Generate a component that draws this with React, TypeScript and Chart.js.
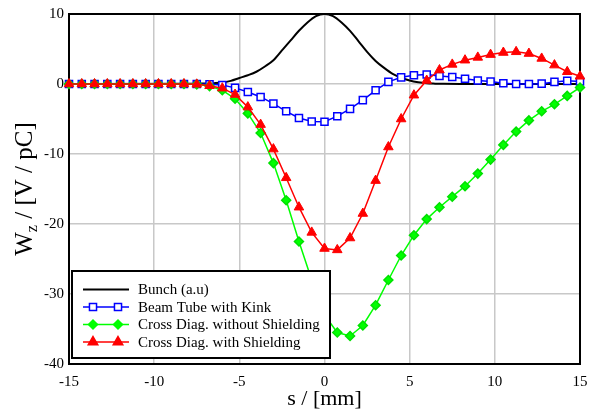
import React, { useEffect, useRef } from 'react';
import { Chart, registerables } from 'chart.js';

Chart.register(...registerables);

// ---- Data ----
const sValues = [
  -15, -14.25, -13.5, -12.75, -12, -11.25, -10.5, -9.75, -9, -8.25,
  -7.5, -6.75, -6, -5.25, -4.5, -3.75, -3, -2.25, -1.5, -0.75,
  0, 0.75, 1.5, 2.25, 3, 3.75, 4.5, 5.25, 6, 6.75,
  7.5, 8.25, 9, 9.75, 10.5, 11.25, 12, 12.75, 13.5, 14.25, 15,
];

const beamTubeKink = [
  0, 0, 0, 0, 0, 0, 0, 0, 0, 0,
  0, -0.05, -0.15, -0.55, -1.15, -1.85, -2.8, -3.9, -4.85, -5.35,
  -5.4, -4.6, -3.55, -2.3, -0.9, 0.3, 0.95, 1.25, 1.35, 1.15,
  1.0, 0.75, 0.5, 0.35, 0.1, 0, 0, 0.05, 0.3, 0.45, 0.35,
];

const crossDiagNoShield = [
  0, 0, 0, 0, 0, 0, 0, 0, 0, 0,
  -0.05, -0.3, -0.9, -2.1, -4.2, -7.0, -11.3, -16.6, -22.5, -28,
  -33, -35.5, -36, -34.5, -31.6, -28, -24.5, -21.6, -19.3, -17.6,
  -16.1, -14.6, -12.8, -10.8, -8.7, -6.8, -5.2, -3.9, -2.9, -1.7, -0.5,
];

const crossDiagShield = [
  0, 0, 0, 0, 0, 0, 0, 0, 0, 0,
  -0.05, -0.25, -0.6, -1.5, -3.3, -5.8, -9.3, -13.4, -17.6, -21.2,
  -23.5, -23.7, -22, -18.5, -13.8, -9, -5, -1.6, 0.5, 2.0,
  2.8, 3.4, 3.8, 4.2, 4.5, 4.6, 4.35, 3.65, 2.7, 1.75, 1.1,
];

const bunchS = [
  -15, -8, -7.5, -7, -6.5, -6, -5.5, -5, -4.5, -4, -3.5, -3, -2.5, -2, -1.5, -1, -0.5,
  0, 0.5, 1, 1.5, 2, 2.5, 3, 3.5, 4, 4.5, 5, 5.5, 6, 6.5, 7, 8, 15,
];
const bunchW = [
  0, 0.02, 0.05, 0.08, 0.12, 0.2, 0.45, 0.85, 1.25, 1.75, 2.5, 3.4, 4.8, 6.2, 7.6, 8.8, 9.7,
  10, 9.7, 8.8, 7.6, 6.1, 4.6, 3.3, 2.3, 1.45, 0.9, 0.5, 0.25, 0.1, 0.05, 0.02, 0, 0,
];

const seriesLabels = [
  'Bunch (a.u)',
  'Beam Tube with Kink',
  'Cross Diag. without Shielding',
  'Cross Diag. with Shielding',
];

const xTickValues = [-15, -10, -5, 0, 5, 10, 15];
const yTickValues = [-40, -30, -20, -10, 0, 10];

const xTitle = 's / [mm]';
const yTitleMain = 'W';
const yTitleSub = 'z';
const yTitleRest = ' / [V / pC]';

const FONT = "'Liberation Serif', 'Times New Roman', serif";

const BLACK = '#000000';
const BLUE = '#0000ff';
const GREEN = '#00ff00';
const RED = '#ff0000';

function toXY(xs: number[], ys: number[]) {
  return xs.map((x, i) => ({ x, y: ys[i] }));
}

function drawMarker(
  ctx: CanvasRenderingContext2D,
  style: string,
  x: number,
  y: number,
  r: number,
  fill: string,
  stroke: string,
  lw: number
) {
  ctx.save();
  ctx.beginPath();
  if (style === 'rect') {
    const s = Math.SQRT1_2 * r;
    ctx.rect(x - s, y - s, 2 * s, 2 * s);
  } else if (style === 'rectRot') {
    ctx.moveTo(x - r, y);
    ctx.lineTo(x, y - r);
    ctx.lineTo(x + r, y);
    ctx.lineTo(x, y + r);
    ctx.closePath();
  } else if (style === 'triangle') {
    let rad = 0;
    ctx.moveTo(x + Math.sin(rad) * r, y - Math.cos(rad) * r);
    rad += (2 * Math.PI) / 3;
    ctx.lineTo(x + Math.sin(rad) * r, y - Math.cos(rad) * r);
    rad += (2 * Math.PI) / 3;
    ctx.lineTo(x + Math.sin(rad) * r, y - Math.cos(rad) * r);
    ctx.closePath();
  }
  ctx.fillStyle = fill;
  ctx.fill();
  ctx.lineWidth = lw;
  ctx.strokeStyle = stroke;
  ctx.stroke();
  ctx.restore();
}

const legendItems = [
  { label: seriesLabels[0], color: BLACK, style: '', r: 0, fill: BLACK, lw: 2 },
  { label: seriesLabels[1], color: BLUE, style: 'rect', r: 5, fill: '#ffffff', lw: 1.5 },
  { label: seriesLabels[2], color: GREEN, style: 'rectRot', r: 4.5, fill: GREEN, lw: 1.5 },
  { label: seriesLabels[3], color: RED, style: 'triangle', r: 5.5, fill: RED, lw: 1.5 },
];

const decorPlugin = {
  id: 'decor',
  beforeDatasetsDraw(chart: any) {
    const { ctx, chartArea: a } = chart;
    ctx.save();
    ctx.strokeStyle = BLACK;
    ctx.lineWidth = 2;
    ctx.strokeRect(a.left, a.top, a.right - a.left, a.bottom - a.top);
    ctx.restore();
  },
  afterDraw(chart: any) {
    const { ctx, chartArea: a } = chart;
    ctx.save();
    // X title
    ctx.fillStyle = BLACK;
    ctx.font = `22px ${FONT}`;
    ctx.textAlign = 'center';
    ctx.textBaseline = 'alphabetic';
    ctx.fillText(xTitle, (a.left + a.right) / 2, 405);

    // Y title with subscript
    const mainFont = `25px ${FONT}`;
    const subFont = `16px ${FONT}`;
    ctx.font = mainFont;
    const wMain = ctx.measureText(yTitleMain).width;
    const wRest = ctx.measureText(yTitleRest).width;
    ctx.font = subFont;
    const wSub = ctx.measureText(yTitleSub).width;
    const total = wMain + wSub + wRest;
    ctx.translate(32, (a.top + a.bottom) / 2);
    ctx.rotate(-Math.PI / 2);
    ctx.textAlign = 'left';
    let x0 = -total / 2;
    ctx.font = mainFont;
    ctx.fillText(yTitleMain, x0, 0);
    x0 += wMain;
    ctx.font = subFont;
    ctx.fillText(yTitleSub, x0, 5);
    x0 += wSub;
    ctx.font = mainFont;
    ctx.fillText(yTitleRest, x0, 0);
    ctx.restore();

    // Legend
    ctx.save();
    const bx = 72, by = 271, bw = 258, bh = 87;
    ctx.fillStyle = '#ffffff';
    ctx.fillRect(bx, by, bw, bh);
    ctx.strokeStyle = BLACK;
    ctx.lineWidth = 2;
    ctx.strokeRect(bx, by, bw, bh);
    const rowY = [289.5, 307, 324.5, 342];
    ctx.font = `15px ${FONT}`;
    ctx.textAlign = 'left';
    ctx.textBaseline = 'middle';
    legendItems.forEach((it, i) => {
      const y = rowY[i];
      ctx.beginPath();
      ctx.strokeStyle = it.color;
      ctx.lineWidth = it.lw;
      ctx.moveTo(83, y);
      ctx.lineTo(129, y);
      ctx.stroke();
      if (it.style) {
        drawMarker(ctx, it.style, 93, y, it.r, it.fill, it.color, 1.5);
        drawMarker(ctx, it.style, 118, y, it.r, it.fill, it.color, 1.5);
      }
      ctx.fillStyle = BLACK;
      ctx.fillText(it.label, 138, y + 1);
    });
    ctx.restore();
  },
};

export default function App() {
  const canvasRef = useRef<HTMLCanvasElement | null>(null);

  useEffect(() => {
    if (!canvasRef.current) return;
    const chart = new Chart(canvasRef.current, {
      type: 'line',
      data: {
        datasets: [
          {
            label: seriesLabels[3],
            data: toXY(sValues, crossDiagShield),
            borderColor: RED,
            backgroundColor: RED,
            borderWidth: 1.5,
            pointStyle: 'triangle',
            pointRadius: 5.5,
            pointBorderWidth: 1,
            pointBackgroundColor: RED,
            pointBorderColor: RED,
            tension: 0,
            clip: false,
            order: 0,
          },
          {
            label: seriesLabels[2],
            data: toXY(sValues, crossDiagNoShield),
            borderColor: GREEN,
            backgroundColor: GREEN,
            borderWidth: 1.5,
            pointStyle: 'rectRot',
            pointRadius: 4.5,
            pointBorderWidth: 1.5,
            pointBackgroundColor: GREEN,
            pointBorderColor: '#00e000',
            tension: 0,
            clip: false,
            order: 1,
          },
          {
            label: seriesLabels[1],
            data: toXY(sValues, beamTubeKink),
            borderColor: BLUE,
            backgroundColor: '#ffffff',
            borderWidth: 1.5,
            pointStyle: 'rect',
            pointRadius: 5,
            pointBorderWidth: 1.5,
            pointBackgroundColor: '#ffffff',
            pointBorderColor: BLUE,
            tension: 0,
            clip: false,
            order: 2,
          },
          {
            label: seriesLabels[0],
            data: toXY(bunchS, bunchW),
            borderColor: BLACK,
            borderWidth: 2,
            pointRadius: 0,
            cubicInterpolationMode: 'monotone',
            clip: false,
            order: 3,
          },
        ],
      },
      options: {
        animation: false,
        responsive: false,
        maintainAspectRatio: false,
        devicePixelRatio: 1,
        layout: { padding: { left: 0, right: 12, top: 12, bottom: 0 } },
        plugins: {
          legend: { display: false },
          tooltip: { enabled: false },
          title: { display: false },
        },
        scales: {
          x: {
            type: 'linear',
            min: -15,
            max: 15,
            afterBuildTicks: (scale: any) => {
              scale.ticks = xTickValues.map((v) => ({ value: v }));
            },
            afterFit: (scale: any) => {
              scale.height = 47;
              scale.paddingLeft = 0;
              scale.paddingRight = 0;
            },
            ticks: {
              color: BLACK,
              font: { family: FONT, size: 15 },
              padding: 9,
              maxRotation: 0,
              autoSkip: false,
            },
            grid: { color: '#c8c8c8', lineWidth: 1.5, drawTicks: false },
            border: { display: false },
          },
          y: {
            type: 'linear',
            min: -40,
            max: 10,
            afterBuildTicks: (scale: any) => {
              scale.ticks = yTickValues.map((v) => ({ value: v }));
            },
            afterFit: (scale: any) => {
              scale.width = 69;
            },
            ticks: {
              color: BLACK,
              font: { family: FONT, size: 15 },
              padding: 5,
              autoSkip: false,
            },
            grid: { color: '#c8c8c8', lineWidth: 1.5, drawTicks: false },
            border: { display: false },
          },
        },
      },
      plugins: [decorPlugin],
    } as any);
    return () => chart.destroy();
  }, []);

  return (
    <div style={{ position: 'fixed', left: 0, top: 0, width: 592, height: 411, background: '#ffffff' }}>
      <canvas ref={canvasRef} width={592} height={411} style={{ display: 'block' }} />
    </div>
  );
}
